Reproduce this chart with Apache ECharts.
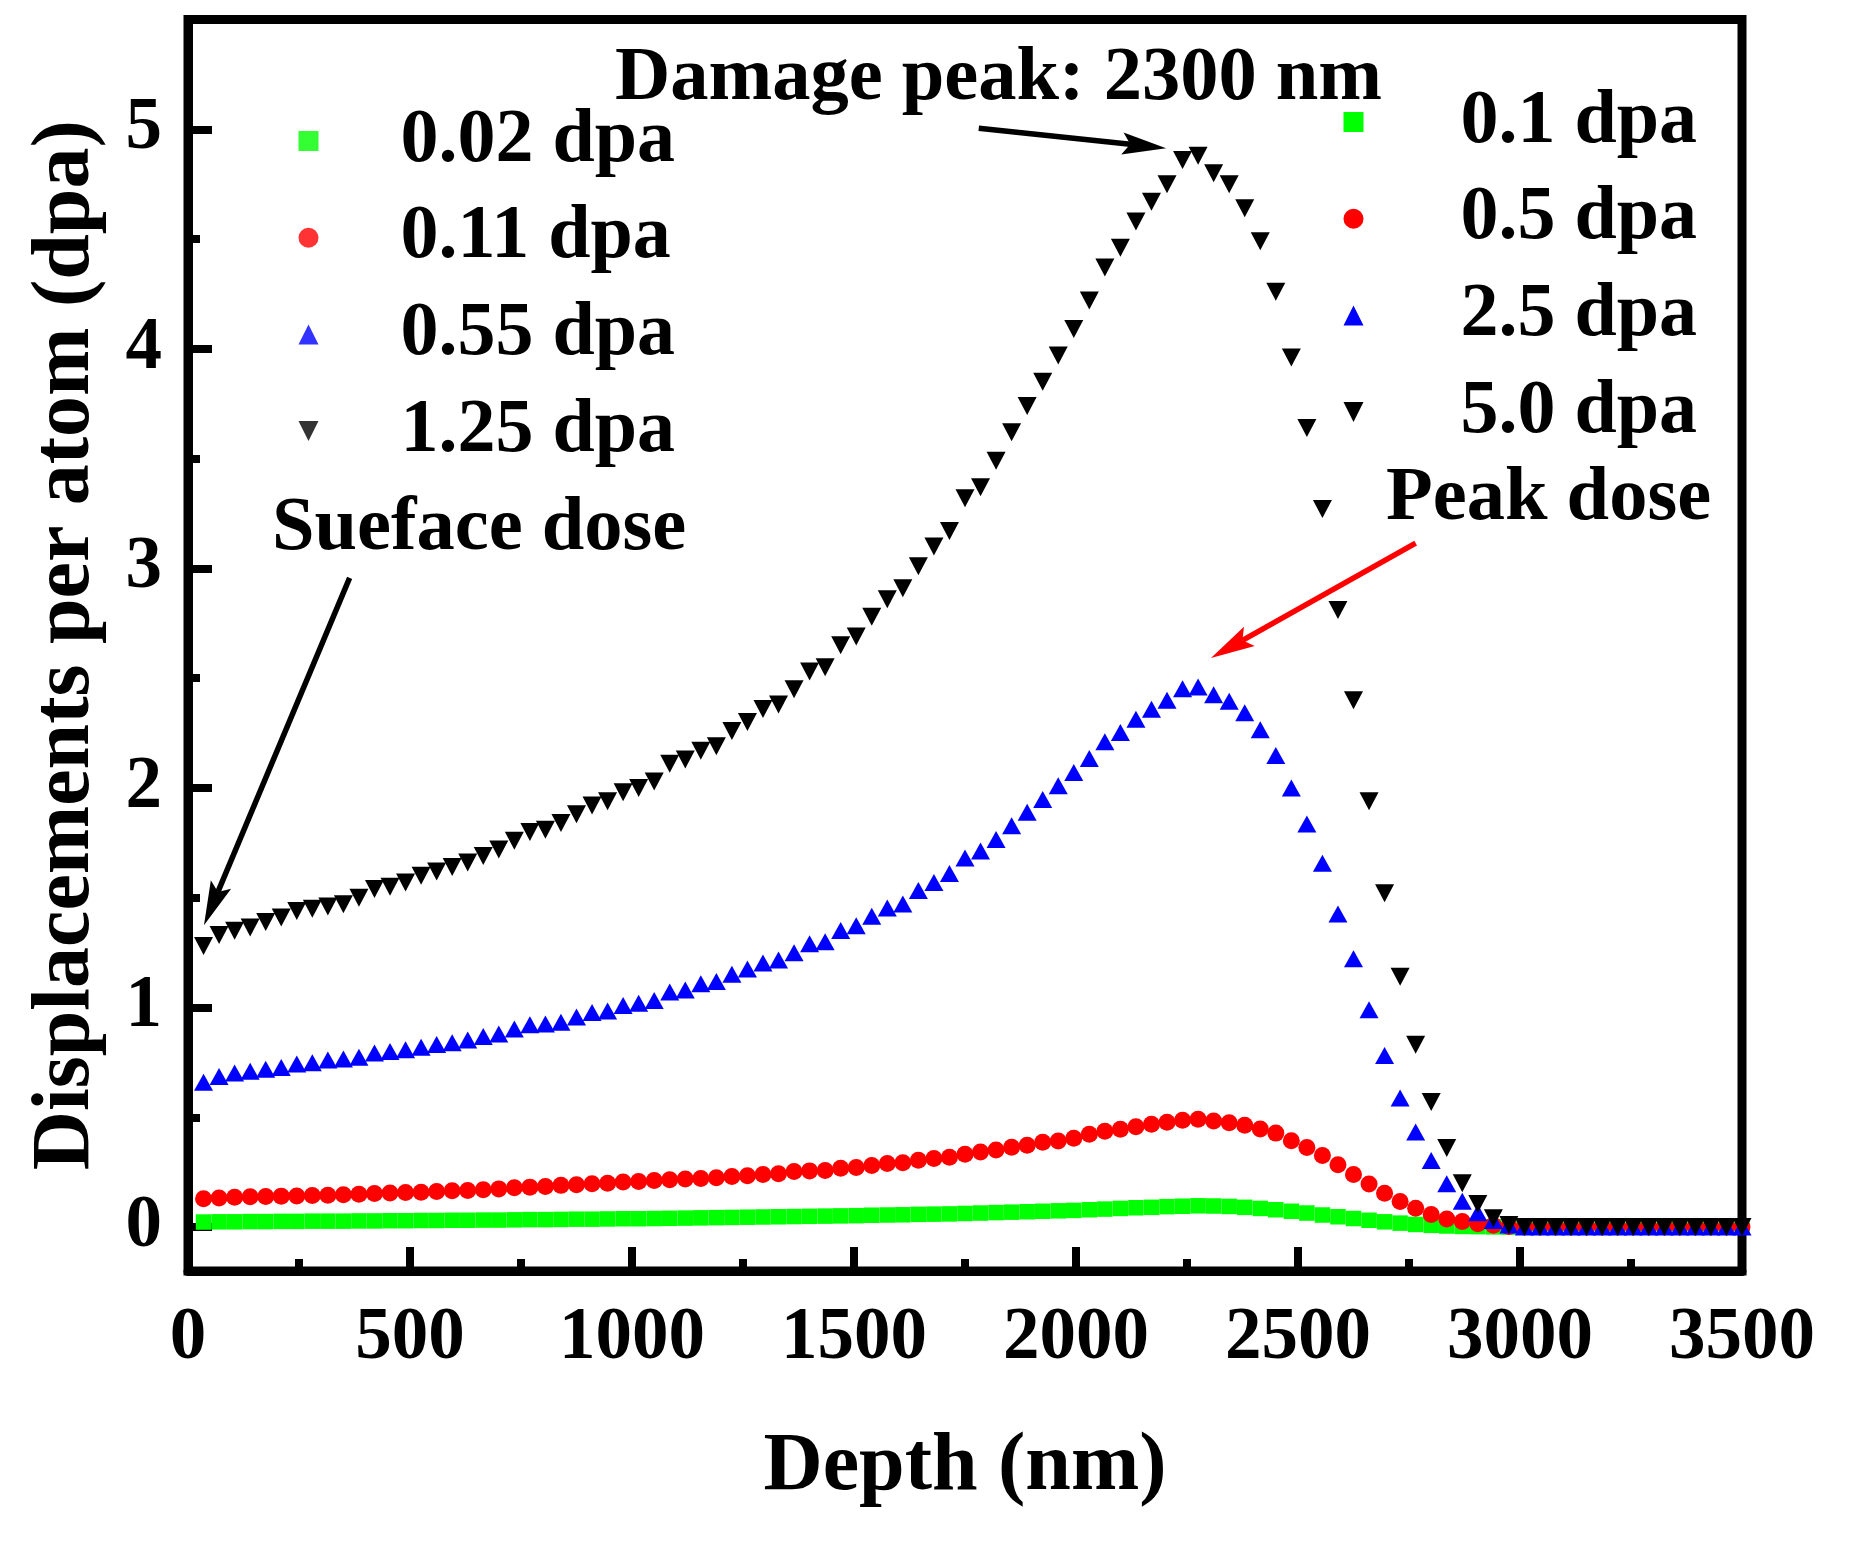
<!DOCTYPE html>
<html>
<head>
<meta charset="utf-8">
<script src="https://cdn.jsdelivr.net/npm/echarts@6/dist/echarts.min.js"></script>
<style>html,body{margin:0;padding:0;background:#fff}#c{width:1853px;height:1542px}</style>
</head>
<body>
<div id="c"></div>
<script>
// ---------- data ----------
const depth = [35,70,105,140,175,210,245,280,315,350,
385,420,455,490,525,560,595,630,665,700,
735,770,805,840,875,910,945,980,1015,1050,
1085,1120,1155,1190,1225,1260,1295,1330,1365,1400,
1435,1470,1505,1540,1575,1610,1645,1680,1715,1750,
1785,1820,1855,1890,1925,1960,1995,2030,2065,2100,
2135,2170,2205,2240,2275,2310,2345,2380,2415,2450,
2485,2520,2555,2590,2625,2660,2695,2730,2765,2800,
2835,2870,2905,2940,2975,3010,3045,3080,3115,3150,
3185,3220,3255,3290,3325,3360,3395,3430,3465,3500];

const dpaGreen = [0.023,0.024,0.024,0.025,0.025,0.026,0.026,0.027,0.027,0.027,
0.028,0.028,0.029,0.029,0.030,0.030,0.031,0.031,0.032,0.032,
0.033,0.034,0.034,0.035,0.036,0.036,0.037,0.038,0.038,0.039,
0.040,0.041,0.042,0.043,0.044,0.045,0.046,0.047,0.048,0.049,
0.050,0.051,0.052,0.054,0.055,0.056,0.058,0.059,0.060,0.062,
0.064,0.066,0.068,0.070,0.072,0.074,0.076,0.079,0.082,0.085,
0.088,0.090,0.093,0.095,0.097,0.096,0.094,0.090,0.085,0.079,
0.072,0.064,0.055,0.047,0.039,0.031,0.024,0.018,0.012,0.008,
0.005,0.003,0.002,0.001,0,0,0,0,0,0,
0,0,0,0,0,0,0,0,0,0];

const dpaRed = [0.129,0.133,0.136,0.138,0.139,0.141,0.142,0.144,0.145,0.147,
0.150,0.153,0.155,0.158,0.159,0.162,0.165,0.167,0.170,0.174,
0.179,0.182,0.185,0.190,0.193,0.197,0.200,0.205,0.208,0.212,
0.216,0.219,0.221,0.225,0.230,0.234,0.240,0.243,0.253,0.256,
0.258,0.268,0.271,0.280,0.290,0.293,0.304,0.312,0.318,0.332,
0.342,0.351,0.364,0.373,0.386,0.392,0.405,0.423,0.437,0.446,
0.457,0.468,0.478,0.487,0.491,0.483,0.475,0.464,0.447,0.428,
0.393,0.363,0.326,0.284,0.239,0.196,0.154,0.117,0.086,0.057,
0.037,0.025,0.015,0.008,0.003,0,0,0,0,0,
0,0,0,0,0,0,0,0,0,0];

const dpaBlue = [0.66,0.686,0.702,0.71,0.719,0.727,0.743,0.749,0.761,0.765,
0.774,0.793,0.80,0.808,0.819,0.832,0.84,0.852,0.868,0.879,
0.902,0.921,0.925,0.933,0.957,0.977,0.984,1.009,1.02,1.032,
1.071,1.08,1.108,1.119,1.152,1.175,1.203,1.216,1.249,1.29,
1.30,1.351,1.373,1.416,1.453,1.471,1.533,1.57,1.61,1.681,
1.713,1.765,1.828,1.889,1.948,2.01,2.071,2.134,2.21,2.253,
2.313,2.359,2.40,2.452,2.46,2.424,2.395,2.342,2.265,2.148,
2.0,1.836,1.657,1.426,1.222,0.99,0.782,0.588,0.433,0.303,
0.197,0.118,0.065,0.03,0.01,0,0,0,0,0,
0,0,0,0,0,0,0,0,0,0];

const dpaBlack = [1.28,1.33,1.35,1.365,1.39,1.41,1.44,1.45,1.46,1.47,
1.50,1.54,1.55,1.57,1.60,1.62,1.64,1.66,1.69,1.72,
1.76,1.80,1.81,1.84,1.88,1.92,1.94,1.98,2.00,2.03,
2.11,2.13,2.17,2.19,2.26,2.30,2.36,2.38,2.45,2.53,
2.55,2.65,2.69,2.78,2.86,2.91,3.01,3.10,3.17,3.32,
3.37,3.49,3.62,3.74,3.85,3.97,4.09,4.22,4.37,4.46,
4.58,4.67,4.75,4.86,4.88,4.80,4.75,4.64,4.49,4.26,
3.96,3.64,3.27,2.81,2.40,1.94,1.52,1.14,0.83,0.57,
0.36,0.20,0.105,0.04,0.01,0,0,0,0,0,
0,0,0,0,0,0,0,0,0,0];

const peakLabels = ['0.1 dpa', '0.5 dpa', '2.5 dpa', '5.0 dpa'];
const surfaceLabels = ['0.02 dpa', '0.11 dpa', '0.55 dpa', '1.25 dpa'];
const yMajorTicks = [0, 1, 2, 3, 4, 5];
const yMinorTicks = [0.5, 1.5, 2.5, 3.5, 4.5];

// annotation arrows in data coordinates [depth, dpa]
const damageArrow = {from: [1781, 5.005], to: [2203, 4.914]};
const surfaceArrow = {from: [364, 2.957], to: [36, 1.375]};
const peakArrow = {from: [2765, 3.115], to: [2304, 2.592]};

// ---------- chart ----------
const FONT = '"Liberation Serif", "Times New Roman", serif';
const chart = echarts.init(document.getElementById('c'), null, {renderer: 'canvas'});
function pts(ys) { return depth.map((x, i) => [x, ys[i]]); }

const styles = [
  {symbol: 'rect', size: 15.5, rotate: 0, color: '#00ff00', icon: 'path://M0,0L10,0L10,10L0,10Z'},
  {symbol: 'circle', size: 17, rotate: 0, color: '#ff0000', icon: 'circle'},
  {symbol: 'triangle', size: [19, 17], rotate: 0, color: '#0000ff', icon: 'path://M5,0L10,10L0,10Z'},
  {symbol: 'triangle', size: [19, 18], rotate: 180, color: '#000000', icon: 'path://M0,0L10,0L5,10Z'}
];
const values = [dpaGreen, dpaRed, dpaBlue, dpaBlack];

const series = [];
values.forEach((v, k) => {
  series.push({
    type: 'scatter', name: peakLabels[k], data: pts(v),
    symbol: styles[k].symbol, symbolSize: styles[k].size, symbolRotate: styles[k].rotate,
    itemStyle: {color: styles[k].color, opacity: 1}, clip: false, z: 2 + k
  });
});
surfaceLabels.forEach((name, k) => {
  series.push({
    type: 'scatter', name: name, data: [],
    symbol: styles[k].symbol, symbolSize: styles[k].size, symbolRotate: styles[k].rotate,
    itemStyle: {color: styles[k].color}
  });
});

const tickStyle = {color: '#000', width: 8};
const labelFont = {fontSize: 73, fontWeight: 'bold', fontFamily: FONT, color: '#000'};
const nameFont = {fontSize: 82, fontWeight: 'bold', fontFamily: FONT, color: '#000'};
function legendText(padLeft) {
  return {fontSize: 76, fontWeight: 'bold', fontFamily: FONT, color: '#000', lineHeight: 80,
          padding: [0, 0, 0, padLeft]};
}
function legendItems(names) {
  return names.map((n, k) => ({name: n, icon: styles[k].icon, itemStyle: {color: styles[k].color}}));
}

chart.setOption({
  animation: false,
  backgroundColor: '#ffffff',
  grid: {left: 188, right: 111, top: 19.5, bottom: 271, show: true,
         borderColor: '#000', borderWidth: 9, backgroundColor: 'rgba(0,0,0,0)'},
  xAxis: {
    type: 'value', min: 0, max: 3500, interval: 500, position: 'bottom',
    axisLine: {show: true, onZero: false, lineStyle: {color: '#000', width: 9}},
    axisTick: {show: true, inside: true, length: 24, lineStyle: tickStyle},
    minorTick: {show: true, splitNumber: 2, length: 12, lineStyle: tickStyle},
    splitLine: {show: false}, minorSplitLine: {show: false},
    axisLabel: Object.assign({margin: 32, showMinLabel: true, showMaxLabel: true,
                              formatter: v => String(v)}, labelFont),
    name: 'Depth (nm)', nameLocation: 'middle', nameGap: 156, nameTextStyle: nameFont
  },
  yAxis: [{
    type: 'value', min: -0.2, max: 5.5, position: 'left',
    axisLine: {show: true, onZero: false, lineStyle: {color: '#000', width: 9}},
    axisTick: {show: true, inside: true, length: 24, customValues: yMajorTicks, lineStyle: tickStyle},
    axisLabel: Object.assign({margin: 26, customValues: yMajorTicks, formatter: v => String(v)}, labelFont),
    splitLine: {show: false},
    name: 'Displacements per atom (dpa)', nameLocation: 'middle', nameGap: 80,
    nameRotate: 90, nameTextStyle: nameFont
  }, {
    type: 'value', min: -0.2, max: 5.5, position: 'left', offset: 0,
    axisLine: {show: false},
    axisTick: {show: true, inside: true, length: 12, customValues: yMinorTicks, lineStyle: tickStyle},
    axisLabel: {show: false},
    splitLine: {show: false}
  }],
  legend: [{
    data: legendItems(surfaceLabels), orient: 'vertical', left: 298.5, top: 101, padding: 0,
    itemWidth: 21, itemHeight: 20, itemGap: 16.7,
    textStyle: legendText(76.5), selectedMode: false
  }, {
    data: legendItems(peakLabels), orient: 'vertical', left: 1343.5, top: 82, padding: 0,
    itemWidth: 21, itemHeight: 20, itemGap: 16.7,
    textStyle: legendText(91.5), selectedMode: false
  }],
  series: series
});

// ---------- annotations ----------
function arrow(a, color) {
  const p1 = chart.convertToPixel({xAxisIndex: 0, yAxisIndex: 0}, a.from);
  const p2 = chart.convertToPixel({xAxisIndex: 0, yAxisIndex: 0}, a.to);
  const dx = p2[0] - p1[0], dy = p2[1] - p1[1];
  const len = Math.sqrt(dx * dx + dy * dy);
  const ux = dx / len, uy = dy / len, nx = -uy, ny = ux;
  const L = 44, W = 11;
  const bx = p2[0] - ux * L, by = p2[1] - uy * L;
  const kx = p2[0] - ux * L * 0.82, ky = p2[1] - uy * L * 0.82;
  return [
    {type: 'line', z: 100, shape: {x1: p1[0], y1: p1[1], x2: kx, y2: ky},
     style: {stroke: color, lineWidth: 5.5}},
    {type: 'polygon', z: 100, shape: {points: [[p2[0], p2[1]], [bx + nx * W, by + ny * W], [kx, ky], [bx - nx * W, by - ny * W]]},
     style: {fill: color}}
  ];
}
function label(text, x, y) {
  return {type: 'text', z: 100, x: x, y: y,
    style: {text: text, font: 'bold 76.5px ' + FONT, fill: '#000',
            textAlign: 'left', textVerticalAlign: 'middle', align: 'left', verticalAlign: 'middle'}};
}
const elements = []
  .concat(arrow(damageArrow, '#000'))
  .concat(arrow(surfaceArrow, '#000'))
  .concat(arrow(peakArrow, '#ff0000'))
  .concat([label('Damage peak: 2300 nm', 615, 79),
           label('Sueface dose', 272, 529),
           label('Peak dose', 1386, 499)]);
chart.setOption({graphic: {elements: elements}});
</script>
</body>
</html>
